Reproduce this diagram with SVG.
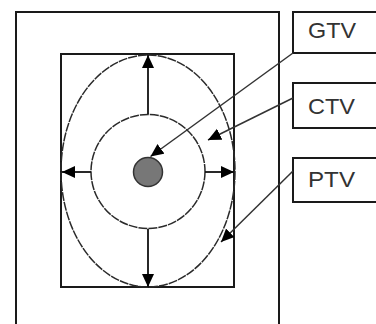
<svg xmlns="http://www.w3.org/2000/svg" width="376" height="324" viewBox="0 0 376 324">
<style>
.box{fill:#fff;stroke:#1a1a1a;stroke-width:2}
.shape{fill:none;stroke:#2a2a2a;stroke-width:1.5;stroke-dasharray:9 1}
.lbl{font-family:"Liberation Sans",Arial,sans-serif;font-size:22.5px;fill:#333}
.con{stroke:#333;stroke-width:1.5;fill:none;marker-end:url(#ah)}
.ax{stroke:#111;stroke-width:1.8;fill:none;marker-end:url(#ah)}
</style>
<defs>
<marker id="ah" markerUnits="userSpaceOnUse" markerWidth="14" markerHeight="13" refX="13" refY="6" orient="auto" viewBox="0 0 14 13">
<path d="M0,0 L13,6 L0,12 z" fill="#000"/>
</marker>
</defs>
<rect width="376" height="324" fill="#fff"/>
<g id="outer"><rect class="box" x="16" y="12" width="263" height="330"/></g>
<g id="inner"><rect class="box" x="61" y="54" width="173" height="233"/></g>
<g id="ptv-shape"><ellipse class="shape" cx="148" cy="171" rx="87" ry="116"/></g>
<g id="ctv-shape"><circle class="shape" cx="148" cy="171.5" r="57"/></g>
<g id="gtv-shape"><circle cx="148" cy="172" r="14.5" fill="#777" stroke="#333" stroke-width="1.5"/></g>
<g id="gtv"><rect class="box" x="293" y="12" width="95" height="41"/><text class="lbl" x="308" y="38" textLength="48" lengthAdjust="spacingAndGlyphs">GTV</text></g>
<g id="ctv"><rect class="box" x="293" y="83" width="95" height="45"/><text class="lbl" x="308" y="114" textLength="47" lengthAdjust="spacingAndGlyphs">CTV</text></g>
<g id="ptv"><rect class="box" x="293" y="158" width="95" height="44"/><text class="lbl" x="308" y="187" textLength="47" lengthAdjust="spacingAndGlyphs">PTV</text></g>
<g id="connectors">
<line class="ax" x1="148" y1="114" x2="148" y2="55"/>
<line class="ax" x1="148" y1="229" x2="148" y2="287"/>
<line class="ax" x1="91" y1="172" x2="62" y2="172"/>
<line class="ax" x1="205" y1="172" x2="234" y2="172"/>
<line class="con" x1="293" y1="53" x2="150.5" y2="156.5"/>
<line class="con" x1="293" y1="98" x2="208" y2="140"/>
<line class="con" x1="293" y1="171" x2="221" y2="242"/>
</g>
</svg>
